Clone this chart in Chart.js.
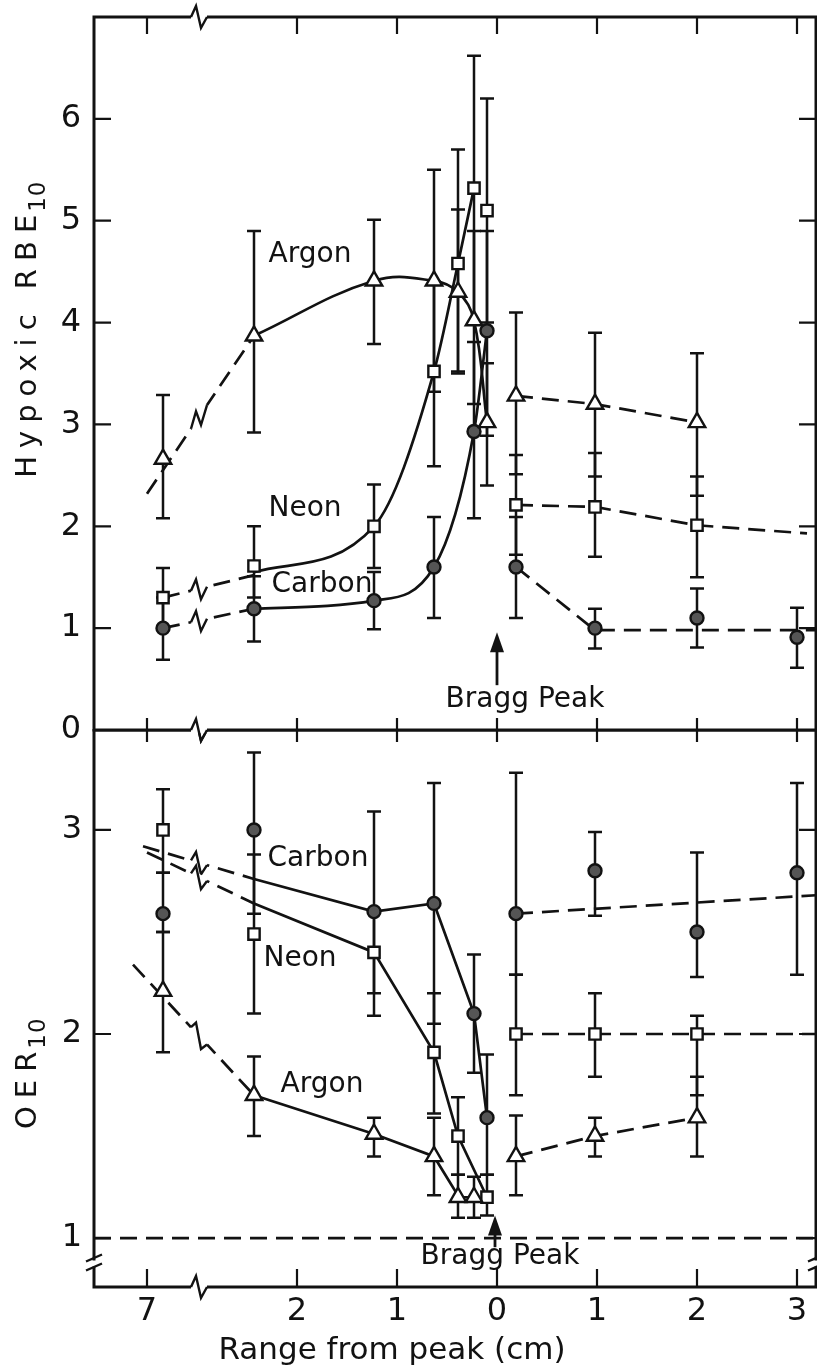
<!DOCTYPE html>
<html>
<head>
<meta charset="utf-8">
<script src="https://cdn.jsdelivr.net/npm/chart.js@4/dist/chart.umd.min.js"></script>
<style>
  html, body { margin: 0; padding: 0; background: #fff; }
  #wrap { position: relative; width: 817px; height: 1371px; }
  #rbe { position: absolute; left: 0; top: 0; }
  #oer { position: absolute; left: 0; top: 729px; }
</style>
</head>
<body>
<div id="wrap">
  <canvas id="rbe" width="817" height="770"></canvas>
  <canvas id="oer" width="817" height="642"></canvas>
</div>
<script>
// x is the drawn axis position: left of 0 = range before the Bragg peak,
// the first group (near 7 cm) sits beyond the axis break
const xPos = [-3.34, -2.43, -1.23, -0.63, -0.39, -0.23, -0.10, 0.19, 0.98, 2.0, 3.0];
const xTickAt = [-3.5, -2, -1, 0, 1, 2, 3];
const xTickLabels = ['7', '2', '1', '0', '1', '2', '3'];
const xBreak = -2.98;
const xMin = -4.03, xMax = 3.19;

// hypoxic RBE10 (top panel)
const rbeTicks = [0, 1, 2, 3, 4, 5, 6];
const rbeArgon    = [2.66, 3.87, 4.41, 4.41, 4.30, 4.02, 3.02, 3.28, 3.20, 3.02, null];
const rbeArgonLo  = [2.08, 2.92, 3.79, 3.32, 3.50, 3.20, 2.40, 2.51, 2.49, 2.30, null];
const rbeArgonHi  = [3.29, 4.90, 5.01, 5.50, 5.11, 4.90, 3.60, 4.10, 3.90, 3.70, null];
const rbeNeon     = [1.30, 1.61, 2.00, 3.52, 4.58, 5.32, 5.10, 2.21, 2.19, 2.01, null];
const rbeNeonLo   = [1.00, 1.30, 1.59, 2.59, 3.52, 4.00, 4.00, 1.72, 1.70, 1.50, null];
const rbeNeonHi   = [1.59, 2.00, 2.41, 4.40, 5.70, 6.62, 6.20, 2.70, 2.72, 2.49, null];
const rbeCarbon   = [1.00, 1.19, 1.27, 1.60, null, 2.93, 3.92, 1.60, 1.00, 1.10, 0.91];
const rbeCarbonLo = [0.69, 0.87, 0.99, 1.10, null, 2.08, 2.89, 1.10, 0.80, 0.81, 0.61];
const rbeCarbonHi = [1.30, 1.51, 1.55, 2.09, null, 3.81, 4.90, 2.09, 1.19, 1.39, 1.20];

// drawn curves of the top panel
const rbeArgonLeadX = [-3.50, -2.43],                          rbeArgonLeadY = [2.32, 3.87];
const rbeArgonCurveX = [-2.43, -1.23, -0.63, -0.39, -0.23, -0.10], rbeArgonCurveY = [3.87, 4.41, 4.41, 4.30, 4.02, 3.02];
const rbeArgonTailX = [0.19, 0.98, 2.0],                       rbeArgonTailY = [3.28, 3.20, 3.02];
const rbeNeonLeadX = [-3.34, -2.43],                           rbeNeonLeadY = [1.30, 1.52];
const rbeNeonCurveX = [-2.43, -1.23, -0.63, -0.39, -0.23],     rbeNeonCurveY = [1.55, 2.00, 3.52, 4.58, 5.32];
const rbeNeonTailX = [0.19, 0.98, 2.0, 3.10],                  rbeNeonTailY = [2.21, 2.19, 2.01, 1.93];
const rbeCarbonLeadX = [-3.34, -2.43],                         rbeCarbonLeadY = [1.00, 1.19];
const rbeCarbonCurveX = [-2.43, -1.23, -0.63, -0.23, -0.10],   rbeCarbonCurveY = [1.19, 1.27, 1.60, 2.93, 3.92];
const rbeCarbonTailX = [0.19, 0.98, 3.19],                     rbeCarbonTailY = [1.60, 0.98, 0.98];

// OER10 (bottom panel)
const oerTicks = [1, 2, 3];
const oerArgon    = [2.21, 1.70, 1.51, 1.40, 1.20, 1.20, null, 1.40, 1.50, 1.59, null];
const oerArgonLo  = [1.91, 1.50, 1.40, 1.21, 1.10, 1.10, null, 1.21, 1.40, 1.40, null];
const oerArgonHi  = [2.50, 1.89, 1.59, 1.59, 1.31, 1.30, null, 1.60, 1.59, 1.79, null];
const oerNeon     = [3.00, 2.49, 2.40, 1.91, 1.50, null, 1.20, 2.00, 2.00, 2.00, null];
const oerNeonLo   = [2.79, 2.10, 2.09, 1.61, 1.31, null, 1.11, 1.70, 1.79, 1.70, null];
const oerNeonHi   = [3.20, 2.88, 2.60, 2.20, 1.69, null, 1.31, 2.29, 2.20, 2.09, null];
const oerCarbon   = [2.59, 3.00, 2.60, 2.64, null, 2.10, 1.59, 2.59, 2.80, 2.50, 2.79];
const oerCarbonLo = [2.50, 2.59, 2.20, 2.05, null, 1.81, 1.31, 2.29, 2.58, 2.28, 2.29];
const oerCarbonHi = [2.79, 3.38, 3.09, 3.23, null, 2.39, 1.90, 3.28, 2.99, 2.89, 3.23];

const oerCarbonLeadX = [-3.54, -2.43],                         oerCarbonLeadY = [2.92, 2.76];
const oerCarbonCurveX = [-2.43, -1.23, -0.63, -0.23, -0.10],   oerCarbonCurveY = [2.76, 2.60, 2.64, 2.10, 1.59];
const oerCarbonTailX = [0.19, 3.19],                           oerCarbonTailY = [2.59, 2.68];
const oerNeonLeadX = [-3.50, -2.43],                           oerNeonLeadY = [2.89, 2.64];
const oerNeonCurveX = [-2.43, -1.23, -0.63, -0.39, -0.10],     oerNeonCurveY = [2.64, 2.40, 1.91, 1.50, 1.20];
const oerNeonTailX = [0.19, 3.19],                             oerNeonTailY = [2.00, 2.00];
const oerArgonLeadX = [-3.64, -2.43],                          oerArgonLeadY = [2.34, 1.70];
const oerArgonCurveX = [-2.43, -1.23, -0.63, -0.38, -0.23],    oerArgonCurveY = [1.70, 1.51, 1.40, 1.20, 1.20];
const oerArgonTailX = [0.19, 0.98, 2.0],                       oerArgonTailY = [1.40, 1.50, 1.59];
const oerUnityX = [xMin, xMax],                                oerUnityY = [1, 1];

const INK = '#121212';
const FONT = '"DejaVu Sans", sans-serif';

function pairs(xs, ys) {
  return xs.map((x, i) => ({ x: x, y: ys[i] }));
}

function markSet(vals, lo, hi, style) {
  const data = xPos.map((x, i) => ({ x: x, y: vals[i], lo: lo[i], hi: hi[i] }))
    .filter(p => p.y !== null);
  return {
    data: data,
    showLine: false,
    errorBars: true,
    pointStyle: style,
    pointRadius: style === 'triangle' ? 9.5 : (style === 'rect' ? 8 : 6.5),
    pointBackgroundColor: style === 'circle' ? '#555' : '#fff',
    pointBorderColor: INK,
    pointBorderWidth: 2.4
  };
}

// kind: 'lead' dashed with break, 'dash', 'solid', 'spline', 'mono'
function lineSet(xs, ys, kind) {
  const dashed = kind === 'lead' || kind === 'dash';
  return {
    data: pairs(xs, ys),
    showLine: true,
    pointRadius: 0,
    borderColor: INK,
    borderWidth: 2.7,
    borderDash: dashed ? [17, 9] : [],
    cubicInterpolationMode: kind === 'mono' ? 'monotone' : 'default',
    tension: kind === 'spline' ? 0.4 : 0,
    brk: kind === 'lead'
  };
}

// small N-shaped break mark across a line
function zig(ctx, x, y, s, up, down) {
  ctx.save();
  ctx.lineCap = 'butt';
  ctx.strokeStyle = '#fff';
  ctx.lineWidth = 6;
  ctx.beginPath();
  ctx.moveTo(x - 8, y - 8 * s);
  ctx.lineTo(x + 8, y + 8 * s);
  ctx.stroke();
  ctx.strokeStyle = INK;
  ctx.lineWidth = 2.4;
  ctx.beginPath();
  ctx.moveTo(x - 8, y - 8 * s);
  ctx.lineTo(x - 3, y - 3 * s - up);
  ctx.lineTo(x + 2, y + 2 * s + down);
  ctx.lineTo(x + 8, y + 8 * s);
  ctx.stroke();
  ctx.restore();
}

const paper = {
  id: 'paper',
  beforeDatasetsDraw(chart) {
    const ctx = chart.ctx, xs = chart.scales.x, ys = chart.scales.y;
    ctx.save();
    ctx.strokeStyle = INK;
    ctx.lineWidth = 2.5;
    chart.data.datasets.forEach(ds => {
      if (!ds.errorBars) return;
      ds.data.forEach(p => {
        if (p.lo == null) return;
        const px = xs.getPixelForValue(p.x);
        const a = ys.getPixelForValue(p.lo), b = ys.getPixelForValue(p.hi);
        ctx.beginPath();
        ctx.moveTo(px, a); ctx.lineTo(px, b);
        ctx.moveTo(px - 7, a); ctx.lineTo(px + 7, a);
        ctx.moveTo(px - 7, b); ctx.lineTo(px + 7, b);
        ctx.stroke();
      });
    });
    ctx.restore();
  },
  afterDatasetsDraw(chart) {
    const ctx = chart.ctx, xs = chart.scales.x, ys = chart.scales.y;
    chart.data.datasets.forEach(ds => {
      if (!ds.brk) return;
      const p = ds.data[0], q = ds.data[1];
      const t = (xBreak - p.x) / (q.x - p.x);
      const px = xs.getPixelForValue(xBreak);
      const py = ys.getPixelForValue(p.y + t * (q.y - p.y));
      const s = (ys.getPixelForValue(q.y) - ys.getPixelForValue(p.y)) /
                (xs.getPixelForValue(q.x) - xs.getPixelForValue(p.x));
      zig(ctx, px, py, s, 10, 11);
    });
  },
  afterDraw(chart) {
    const o = chart.options.plugins.paper;
    const ctx = chart.ctx, a = chart.chartArea, xs = chart.scales.x, ys = chart.scales.y;
    ctx.save();
    ctx.strokeStyle = INK;
    ctx.lineWidth = 3;
    ctx.strokeRect(a.left, a.top, a.right - a.left, a.bottom - a.top);

    // inward ticks on all four sides
    ctx.lineWidth = 2.2;
    ctx.beginPath();
    xTickAt.forEach(v => {
      const px = xs.getPixelForValue(v);
      ctx.moveTo(px, a.top); ctx.lineTo(px, a.top + o.tickTop);
      ctx.moveTo(px, a.bottom); ctx.lineTo(px, a.bottom - o.tickBottom);
    });
    o.yTicks.forEach(v => {
      const py = ys.getPixelForValue(v);
      ctx.moveTo(a.left, py); ctx.lineTo(a.left + 17, py);
      ctx.moveTo(a.right, py); ctx.lineTo(a.right - 17, py);
    });
    ctx.stroke();

    // breaks in the range axis
    const bx = xs.getPixelForValue(xBreak);
    zig(ctx, bx, a.top, 0, 11, 11);
    zig(ctx, bx, a.bottom, 0, 11, 11);

    // break in the OER axis
    if (o.yBreak != null) {
      const py = ys.getPixelForValue(o.yBreak);
      ctx.lineWidth = 2.4;
      [a.left, a.right].forEach(px => {
        ctx.fillStyle = '#fff';
        ctx.fillRect(px - 3, py - 2, 6, 6);
        ctx.beginPath();
        ctx.moveTo(px - 8, py - 1); ctx.lineTo(px + 8, py - 8);
        ctx.moveTo(px - 8, py + 8); ctx.lineTo(px + 8, py + 1);
        ctx.stroke();
      });
    }

    // range axis title
    ctx.fillStyle = INK;
    if (o.xTitle) {
      ctx.font = '31px ' + FONT;
      ctx.textAlign = 'center';
      ctx.textBaseline = 'middle';
      ctx.fillText(o.xTitle, xs.getPixelForValue(o.xTitleAt), a.bottom + 64);
    }

    // rotated y title with subscript
    ctx.textBaseline = 'middle';
    ctx.textAlign = 'left';
    ctx.translate(o.titleX, ys.getPixelForValue(o.titleAt));
    ctx.rotate(-Math.PI / 2);
    ctx.letterSpacing = '8px';
    ctx.font = '29px ' + FONT;
    const w1 = ctx.measureText(o.title).width;
    ctx.letterSpacing = '1px';
    ctx.font = '23px ' + FONT;
    const w2 = ctx.measureText(o.sub).width;
    ctx.letterSpacing = '8px';
    ctx.font = '29px ' + FONT;
    ctx.fillText(o.title, -(w1 + w2) / 2, 0);
    ctx.letterSpacing = '1px';
    ctx.font = '23px ' + FONT;
    ctx.fillText(o.sub, -(w1 + w2) / 2 + w1 - 5, 11);
    ctx.restore();

    // series names and the Bragg peak note
    ctx.save();
    ctx.fillStyle = INK;
    ctx.font = '28px ' + FONT;
    ctx.textAlign = 'center';
    ctx.textBaseline = 'middle';
    o.notes.forEach(n => {
      ctx.fillText(n.text, xs.getPixelForValue(n.x), ys.getPixelForValue(n.y));
    });
    const ax = xs.getPixelForValue(o.arrow.x);
    const y0 = ys.getPixelForValue(o.arrow.from), y1 = ys.getPixelForValue(o.arrow.to);
    ctx.strokeStyle = INK;
    ctx.lineWidth = 2.8;
    ctx.beginPath();
    ctx.moveTo(ax, y0); ctx.lineTo(ax, y1 + 14);
    ctx.stroke();
    ctx.beginPath();
    ctx.moveTo(ax, y1); ctx.lineTo(ax - 7, y1 + 20); ctx.lineTo(ax + 7, y1 + 20); ctx.closePath();
    ctx.fill();
    ctx.restore();
  }
};

function yScale(min, max, ticks, pad) {
  return {
    type: 'linear', min: min, max: max,
    afterBuildTicks: s => { s.ticks = ticks.map(v => ({ value: v })); },
    afterFit: s => { s.width = 94; s.paddingTop = 0; s.paddingBottom = 0; },
    grid: { display: false, drawTicks: false },
    border: { display: false },
    ticks: { font: { family: FONT, size: 32 }, color: INK, padding: pad, callback: v => String(v) }
  };
}

function xScale(show) {
  return {
    type: 'linear', min: xMin, max: xMax, display: show,
    afterBuildTicks: s => { s.ticks = xTickAt.map(v => ({ value: v })); },
    afterFit: s => { s.height = show ? 84 : 0; s.paddingLeft = 0; s.paddingRight = 0; },
    grid: { display: false, drawTicks: false },
    border: { display: false },
    ticks: {
      font: { family: FONT, size: 32 }, color: INK, padding: 5,
      maxRotation: 0, autoSkip: false,
      callback: (v, i) => xTickLabels[i]
    },
    title: { display: false }
  };
}

function panel(id, datasets, yS, padding, showX, extra) {
  return new Chart(document.getElementById(id), {
    type: 'scatter',
    data: { datasets: datasets },
    options: {
      responsive: false,
      animation: false,
      events: [],
      layout: { autoPadding: false, padding: padding },
      plugins: { legend: { display: false }, tooltip: { enabled: false }, paper: extra },
      scales: { x: xScale(showX), y: yS }
    },
    plugins: [paper]
  });
}

panel('rbe', [
  markSet(rbeArgon, rbeArgonLo, rbeArgonHi, 'triangle'),
  markSet(rbeNeon, rbeNeonLo, rbeNeonHi, 'rect'),
  markSet(rbeCarbon, rbeCarbonLo, rbeCarbonHi, 'circle'),
  lineSet(rbeArgonLeadX, rbeArgonLeadY, 'lead'),
  lineSet(rbeArgonCurveX, rbeArgonCurveY, 'spline'),
  lineSet(rbeArgonTailX, rbeArgonTailY, 'dash'),
  lineSet(rbeNeonLeadX, rbeNeonLeadY, 'lead'),
  lineSet(rbeNeonCurveX, rbeNeonCurveY, 'mono'),
  lineSet(rbeNeonTailX, rbeNeonTailY, 'dash'),
  lineSet(rbeCarbonLeadX, rbeCarbonLeadY, 'lead'),
  lineSet(rbeCarbonCurveX, rbeCarbonCurveY, 'mono'),
  lineSet(rbeCarbonTailX, rbeCarbonTailY, 'dash')
], yScale(0, 7, rbeTicks, 13), { top: 17, right: 1, bottom: 40, left: 0 }, false, {
  yTicks: rbeTicks, tickTop: 17, tickBottom: 12,
  title: 'Hypoxic RBE', sub: '10', titleX: 28, titleAt: 3.96,
  notes: [
    { text: 'Argon', x: -1.87, y: 4.67 },
    { text: 'Neon', x: -1.92, y: 2.17 },
    { text: 'Carbon', x: -1.75, y: 1.43 },
    { text: 'Bragg Peak', x: 0.28, y: 0.30 }
  ],
  arrow: { x: 0.0, from: 0.44, to: 0.96 }
});

panel('oer', [
  markSet(oerArgon, oerArgonLo, oerArgonHi, 'triangle'),
  markSet(oerNeon, oerNeonLo, oerNeonHi, 'rect'),
  markSet(oerCarbon, oerCarbonLo, oerCarbonHi, 'circle'),
  lineSet(oerCarbonLeadX, oerCarbonLeadY, 'lead'),
  lineSet(oerCarbonCurveX, oerCarbonCurveY, 'solid'),
  lineSet(oerCarbonTailX, oerCarbonTailY, 'dash'),
  lineSet(oerNeonLeadX, oerNeonLeadY, 'lead'),
  lineSet(oerNeonCurveX, oerNeonCurveY, 'solid'),
  lineSet(oerNeonTailX, oerNeonTailY, 'dash'),
  lineSet(oerArgonLeadX, oerArgonLeadY, 'lead'),
  lineSet(oerArgonCurveX, oerArgonCurveY, 'solid'),
  lineSet(oerArgonTailX, oerArgonTailY, 'dash'),
  lineSet(oerUnityX, oerUnityY, 'dash')
], yScale(0.76, 3.49, oerTicks, 12), { top: 1, right: 1, bottom: 0, left: 0 }, true, {
  yTicks: oerTicks, tickTop: 12, tickBottom: 18, yBreak: 0.88,
  title: 'OER', sub: '10', titleX: 28, titleAt: 1.82,
  xTitle: 'Range from peak (cm)', xTitleAt: -1.05,
  notes: [
    { text: 'Carbon', x: -1.79, y: 2.86 },
    { text: 'Neon', x: -1.97, y: 2.37 },
    { text: 'Argon', x: -1.75, y: 1.75 },
    { text: 'Bragg Peak', x: 0.03, y: 0.91 }
  ],
  arrow: { x: -0.02, from: 0.955, to: 1.11 }
});
</script>
</body>
</html>
